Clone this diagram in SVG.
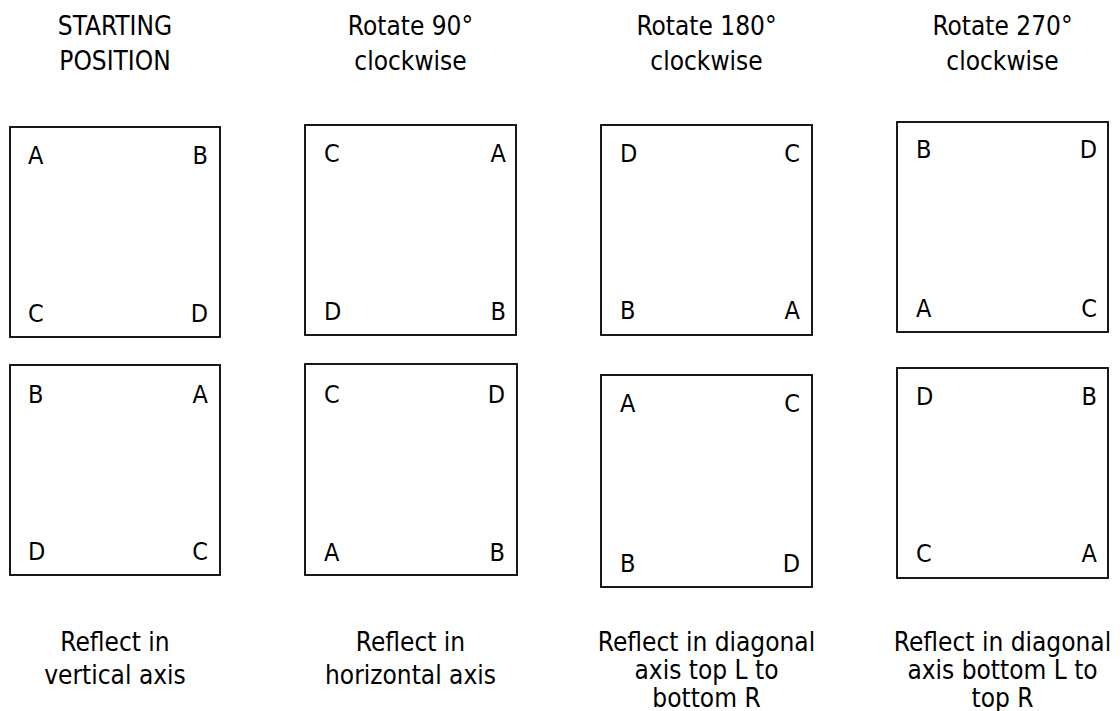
<svg xmlns="http://www.w3.org/2000/svg" width="1120" height="711" viewBox="0 0 1120 711">
<style>
.box{fill:#fff;stroke:#000;stroke-width:1.8}
text{font-family:"DejaVu Sans Condensed","DejaVu Sans",sans-serif;fill:#000}
.lbl{font-size:25px}
.r{text-anchor:end}
.cap{font-size:26px;text-anchor:middle}
</style>
<rect width="1120" height="711" fill="#fff"/>
<g id="titles">
<text class="cap" x="115" y="35">STARTING</text>
<text class="cap" x="115" y="70">POSITION</text>
<text class="cap" x="410.5" y="35">Rotate 90°</text>
<text class="cap" x="410.5" y="70">clockwise</text>
<text class="cap" x="706.5" y="35">Rotate 180°</text>
<text class="cap" x="706.5" y="70">clockwise</text>
<text class="cap" x="1002.5" y="35">Rotate 270°</text>
<text class="cap" x="1002.5" y="70">clockwise</text>
</g>
<g id="box1">
<rect class="box" x="10" y="127" width="210" height="210"/>
<text class="lbl" x="28" y="164">A</text><text class="lbl r" x="208" y="164">B</text>
<text class="lbl" x="28" y="322">C</text><text class="lbl r" x="208" y="322">D</text>
</g>
<g id="box2">
<rect class="box" x="305" y="125" width="211" height="210"/>
<text class="lbl" x="324" y="162">C</text><text class="lbl r" x="506" y="162">A</text>
<text class="lbl" x="324" y="320">D</text><text class="lbl r" x="506" y="320">B</text>
</g>
<g id="box3">
<rect class="box" x="601" y="125" width="211" height="210"/>
<text class="lbl" x="620" y="162">D</text><text class="lbl r" x="800" y="162">C</text>
<text class="lbl" x="620" y="319">B</text><text class="lbl r" x="800" y="319">A</text>
</g>
<g id="box4">
<rect class="box" x="897" y="122" width="211" height="210"/>
<text class="lbl" x="916" y="158">B</text><text class="lbl r" x="1097" y="158">D</text>
<text class="lbl" x="916" y="317">A</text><text class="lbl r" x="1097" y="317">C</text>
</g>
<g id="box5">
<rect class="box" x="10" y="365" width="210" height="210"/>
<text class="lbl" x="28" y="403">B</text><text class="lbl r" x="208" y="403">A</text>
<text class="lbl" x="28" y="560">D</text><text class="lbl r" x="208" y="560">C</text>
</g>
<g id="box6">
<rect class="box" x="305" y="364" width="212" height="211"/>
<text class="lbl" x="324" y="403">C</text><text class="lbl r" x="505" y="403">D</text>
<text class="lbl" x="324" y="561">A</text><text class="lbl r" x="505" y="561">B</text>
</g>
<g id="box7">
<rect class="box" x="601" y="375" width="211" height="212"/>
<text class="lbl" x="620" y="412">A</text><text class="lbl r" x="800" y="412">C</text>
<text class="lbl" x="620" y="572">B</text><text class="lbl r" x="800" y="572">D</text>
</g>
<g id="box8">
<rect class="box" x="897" y="368" width="211" height="210"/>
<text class="lbl" x="916" y="405">D</text><text class="lbl r" x="1097" y="405">B</text>
<text class="lbl" x="916" y="562">C</text><text class="lbl r" x="1097" y="562">A</text>
</g>
<g id="captions">
<text class="cap" x="115" y="651">Reflect in</text>
<text class="cap" x="115" y="684">vertical axis</text>
<text class="cap" x="410.5" y="651">Reflect in</text>
<text class="cap" x="410.5" y="684">horizontal axis</text>
<text class="cap" x="706.5" y="651">Reflect in diagonal</text>
<text class="cap" x="706.5" y="679">axis top L to</text>
<text class="cap" x="706.5" y="707">bottom R</text>
<text class="cap" x="1002.5" y="651">Reflect in diagonal</text>
<text class="cap" x="1002.5" y="679">axis bottom L to</text>
<text class="cap" x="1002.5" y="707">top R</text>
</g>
</svg>
